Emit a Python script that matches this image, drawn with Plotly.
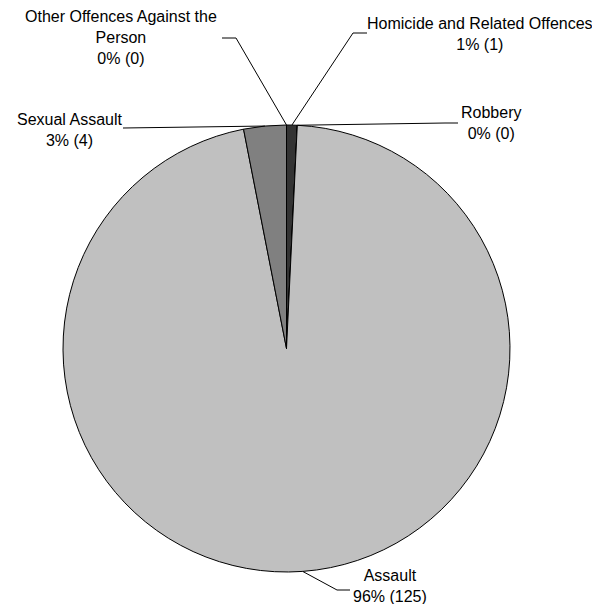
import math
import plotly.graph_objects as go

categories = ["Homicide and Related Offences", "Robbery", "Assault", "Sexual Assault",
              "Other Offences Against the Person"]
label_names = ["Homicide and Related Offences", "Robbery", "Assault", "Sexual Assault",
               "Other Offences Against the<br>Person"]
values = [1, 0, 125, 4, 0]
colors = ["#333333", "#a0a0a0", "#c0c0c0", "#808080", "#606060"]

# page is offset by the 8px body margin; work in page pixels, convert below
OFF = 8
W, H = 600 - 2 * OFF, 612 - 2 * OFF
# pie placement (page pixels)
CX, CY, R = 286.5, 348.5, 223.5

# label placement (page pixels): text centre, elbow point, line end near text
label_pos = {
    "Homicide and Related Offences": dict(tx=480, ty=34, ex=353, ey=33, hx=367),
    "Robbery": dict(tx=491, ty=123, ex=445, ey=123, hx=458),
    "Assault": dict(tx=390, ty=586, ex=337, ey=590, hx=350),
    "Sexual Assault": dict(tx=70, ty=130, ex=123, ey=128, hx=123),
    "Other Offences Against the Person": dict(tx=121, ty=38, ex=236, ey=38, hx=222),
}


def px(x):
    return (x - OFF) / W


def py(y):
    return 1 - (y - OFF) / H


fig = go.Figure(go.Pie(
    labels=categories,
    values=values,
    sort=False,
    direction="clockwise",
    rotation=0,
    textinfo="none",
    hoverinfo="label+value+percent",
    marker=dict(colors=colors, line=dict(color="black", width=1)),
    domain=dict(x=[px(CX - R), px(CX + R)], y=[py(CY + R), py(CY - R)]),
    showlegend=False,
))

total = sum(values)
shapes = []
annotations = []
cum = 0
for cat, name, v in zip(categories, label_names, values):
    mid = (cum + v / 2) / total * 2 * math.pi
    cum += v
    ax = CX + R * math.sin(mid)
    ay = CY - R * math.cos(mid)
    p = label_pos[cat]
    pct = round(100 * v / total)
    shapes.append(dict(type="line", xref="paper", yref="paper",
                       x0=px(ax), y0=py(ay), x1=px(p["ex"]), y1=py(p["ey"]),
                       line=dict(color="black", width=1)))
    shapes.append(dict(type="line", xref="paper", yref="paper",
                       x0=px(p["ex"]), y0=py(p["ey"]), x1=px(p["hx"]), y1=py(p["ey"]),
                       line=dict(color="black", width=1)))
    annotations.append(dict(
        x=px(p["tx"]), y=py(p["ty"]), xref="paper", yref="paper",
        xanchor="center", yanchor="middle", showarrow=False, align="center",
        text=f"{name}<br>{pct}% ({v})",
        font=dict(family="Liberation Sans, Arial, sans-serif", size=16, color="black"),
    ))

fig.update_layout(
    width=W, height=H,
    margin=dict(l=0, r=0, t=0, b=0),
    paper_bgcolor="white",
    plot_bgcolor="white",
    shapes=shapes,
    annotations=annotations,
)

fig.write_html("out.html")
